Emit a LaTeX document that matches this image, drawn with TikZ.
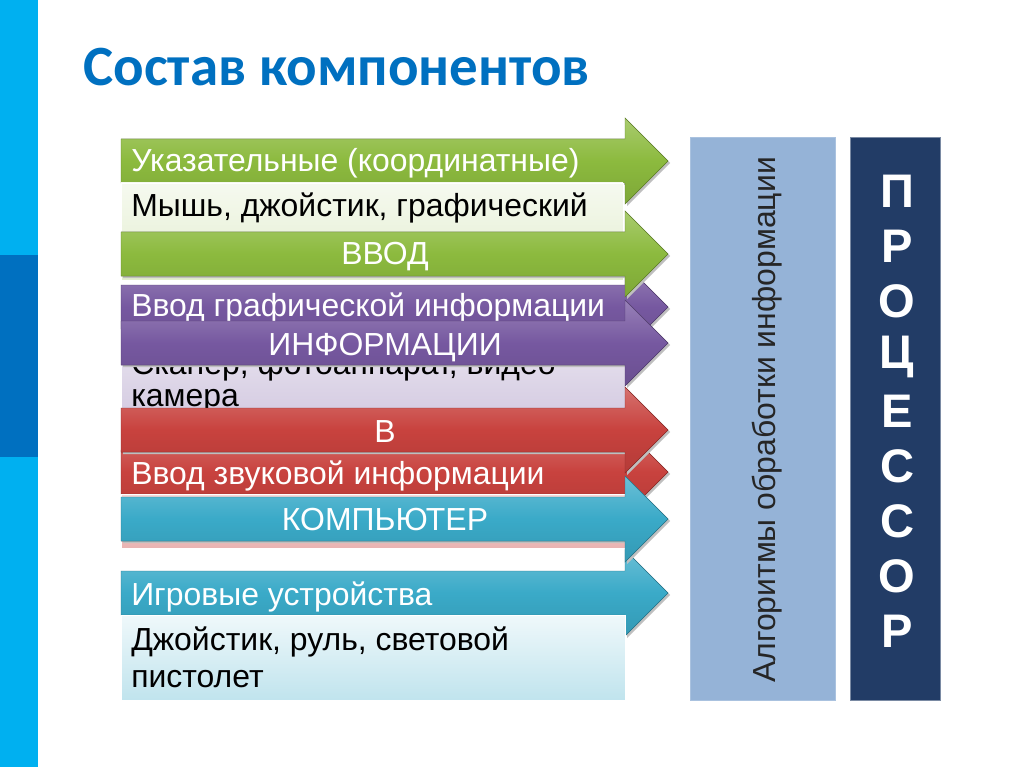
\documentclass[tikz,border=0pt]{standalone}
\usepackage{fontspec}
\setmainfont{Liberation Sans}
\newfontfamily\titlefont{Carlito}
\usepackage{tikz}
\usetikzlibrary{positioning, calc}

\definecolor{sidebar}{RGB}{0,176,240}
\definecolor{sidedark}{RGB}{0,112,192}
\definecolor{grn}{RGB}{140,186,62}
\definecolor{prp}{RGB}{118,88,160}
\definecolor{rd}{RGB}{200,66,62}
\definecolor{aq}{RGB}{58,170,200}
\definecolor{algo}{HTML}{95B3D7}
\definecolor{cpu}{RGB}{34,60,102}

\newcommand{\slidearrow}[2]{%
  \fill[black!25] (123,#1-20) -- (627,#1-20) -- (627,#1-41) -- (670,#1+2) -- (627,#1+45)
    -- (627,#1+24) -- (123,#1+24) -- cycle;
  \fill[top color=#2!75!white, bottom color=#2!90!black, middle color=#2, draw=#2!70!black, line width=0.3pt]
    (121,#1-22) -- (625,#1-22) -- (625,#1-43) -- (668,#1) -- (625,#1+43)
    -- (625,#1+22) -- (121,#1+22) -- cycle;}

\begin{document}
\begin{tikzpicture}[x=0.025cm, y=-0.025cm,
    bandtxt/.style={text=white, inner sep=0pt, font=\fontsize{22.7}{26}\selectfont},
    desctxt/.style={text=black, inner sep=0pt, font=\fontsize{22.7}{26}\selectfont},
    descbox/.style={draw=white, line width=0.6pt}]
    \useasboundingbox (0,0) rectangle (1024,767);
    \fill[white] (0,0) rectangle (1024,767);

    \fill[sidebar] (0,0) rectangle (38,767);
    \fill[sidedark] (0,255) rectangle (38,457);
    \node (title) [anchor=base west, inner sep=0pt, text=sidedark, font=\titlefont\bfseries\fontsize{40.5}{45}\selectfont] at (83,86) {Состав компонентов};

    \node (algo) [draw=algo!80!white, fill=algo, minimum width=145*0.025cm, minimum height=563*0.025cm, inner sep=0pt] at (762.5,418.5) {};
    \node (algotxt) [rotate=90, inner sep=0pt, text=black!85, font=\fontsize{22.7}{26}\selectfont] at (767,420) {Алгоритмы обработки информации};
    \node (cpu) [draw=cpu!60!white, fill=cpu, minimum width=90*0.025cm, minimum height=563*0.025cm, inner sep=0pt, right=15*0.025cm of algo] {};
    \foreach \l [count=\i] in {П,Р,О,Ц,Е,С,С,О,Р}
        \node (cpu\i) [text=white, inner sep=0pt, font=\bfseries\fontsize{33.5}{34}\selectfont] at (897,191.5+55*\i-55) {\l};

    \slidearrow{161}{grn}
    \fill[descbox, top color=grn!8!white, bottom color=grn!25!white] (121,183) rectangle (623,280);
    \node (ukaz) [bandtxt, anchor=base west] at (131,172) {Указательные (координатные)};
    \node (mouse) [desctxt, anchor=base west] at (131,217) {Мышь, джойстик, графический};

    \slidearrow{307}{prp}
    \fill[descbox, top color=prp!15!white, bottom color=prp!30!white] (121,329) rectangle (625,410);
    \node (graph) [bandtxt, anchor=base west] at (131,316) {Ввод графической информации};
    \node (scan) [desctxt, anchor=base west] at (131,374) {Сканер, фотоаппарат, видео};
    \node (cam) [desctxt, anchor=base west] at (131,406) {камера};

    \slidearrow{472}{rd}
    \fill[descbox, top color=rd!20!white, bottom color=rd!40!white] (121,494) rectangle (625,548);
    \node (sound) [bandtxt, anchor=base west] at (131,484) {Ввод звуковой информации};

    \slidearrow{593}{aq}
    \fill[descbox, top color=aq!8!white, bottom color=aq!32!white] (121,615) rectangle (625,700);
    \node (games) [bandtxt, anchor=base west] at (131,605) {Игровые устройства};
    \node (joy) [desctxt, anchor=base west] at (131,650) {Джойстик, руль, световой};
    \node (gun) [desctxt, anchor=base west] at (131,687) {пистолет};

    \slidearrow{254}{grn}
    \node (vvod) [bandtxt, anchor=base] at (385,265) {ВВОД};
    \slidearrow{343}{prp}
    \node (info) [bandtxt, anchor=base] at (385,355) {ИНФОРМАЦИИ};
    \slidearrow{430}{rd}
    \node (v) [bandtxt, anchor=base] at (385,442) {В};
    \slidearrow{519}{aq}
    \node (comp) [bandtxt, anchor=base] at (385,530) {КОМПЬЮТЕР};
\end{tikzpicture}
\end{document}
